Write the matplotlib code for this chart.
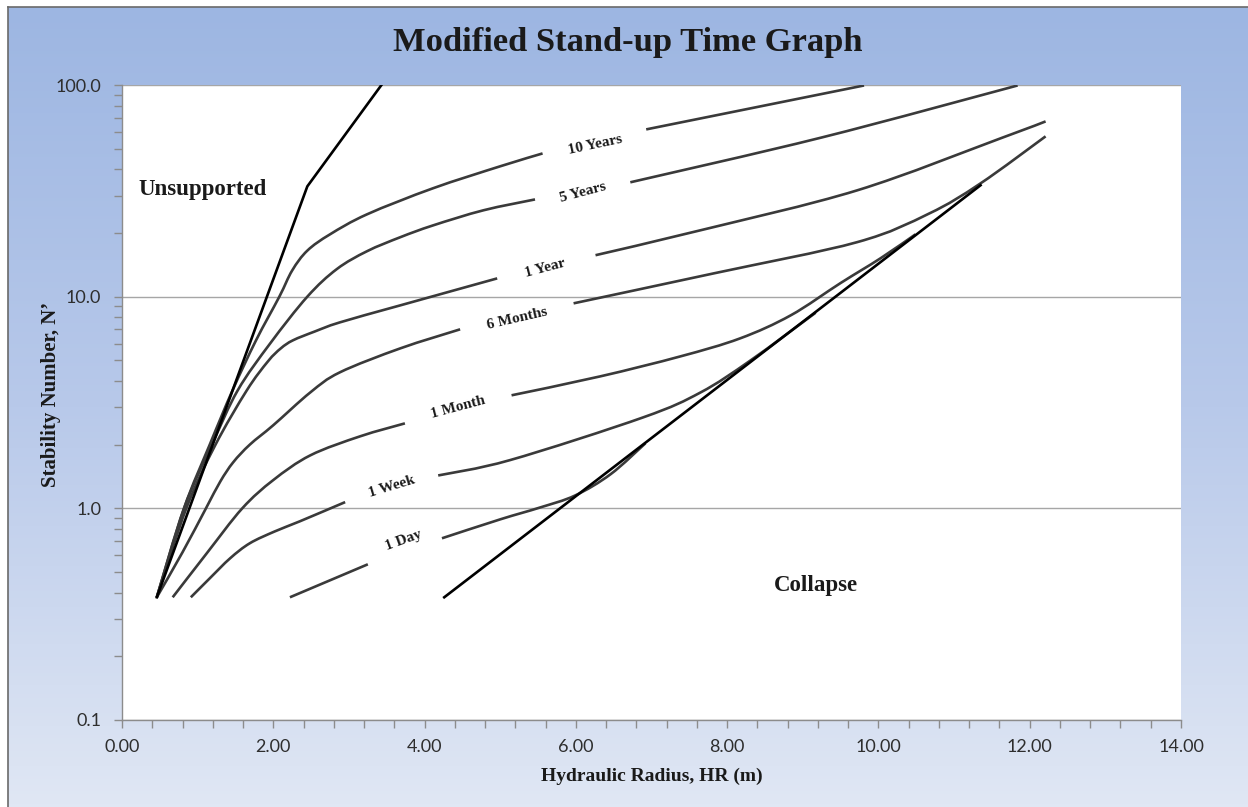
import numpy as np
import matplotlib.pyplot as plt
from matplotlib.colors import LinearSegmentedColormap
from matplotlib.lines import Line2D
from matplotlib.path import Path
from matplotlib.patches import PathPatch
from matplotlib.ticker import FixedLocator, MultipleLocator, LogLocator, NullFormatter, FuncFormatter

nan = np.nan

# Boundary lines: hydraulic radius HR (m) vs stability number N'
hr_unsupported = [0.46, 2.45, 3.43]
n_unsupported = [0.38, 33.2, 100.0]

hr_collapse = [4.26, 11.35]
n_collapse = [0.38, 33.6]

# Stand-up time curves (nan = break where the label sits)
hr_10yr = [0.46, 0.82, 1.16, 1.46, 1.77, 2.08, 2.25, 2.45, 2.75, 3.24, 4.11, 5.00, 5.56, nan, 6.93, 9.81]
n_10yr = [0.38, 1.0, 2.0, 3.6, 6.2, 10.0, 13.3, 16.5, 19.7, 24.5, 32.5, 41.3, 47.5, nan, 61.7, 99.5]

hr_5yr = [0.46, 0.82, 1.19, 1.53, 1.96, 2.45, 2.84, 3.24, 3.68, 4.11, 4.78, 5.46, nan, 6.72, 9.25, 11.84]
n_5yr = [0.38, 1.0, 2.0, 3.61, 6.02, 10.0, 13.5, 16.4, 19.1, 21.7, 25.6, 28.8, nan, 34.7, 56.5, 99.5]

hr_1yr = [0.46, 0.85, 1.23, 1.65, 1.93, 2.10, 2.26, 2.55, 2.88, 3.68, 4.96, nan, 6.26, 7.65, 9.72, 11.61, 12.21]
n_1yr = [0.38, 1.0, 1.98, 3.61, 4.95, 5.7, 6.22, 6.85, 7.56, 9.10, 12.2, nan, 15.7, 20.6, 31.8, 55.9, 67.3]

hr_6mo = [0.46, 0.80, 1.11, 1.30, 1.47, 1.69, 2.00, 2.49, 2.88, 3.68, 4.47, nan, 5.97, 7.83, 9.72, 10.67, 11.35, 12.21]
n_6mo = [0.38, 0.62, 1.0, 1.34, 1.65, 2.0, 2.47, 3.53, 4.39, 5.70, 7.01, nan, 9.3, 12.9, 18.1, 24.7, 34.3, 57.2]

hr_1mo = [0.67, 1.12, 1.59, 2.00, 2.49, 3.15, 3.74, nan, 5.15, 6.32, 7.38, 8.17, 8.84, 9.50, 10.03, 10.49]
n_1mo = [0.38, 0.613, 1.0, 1.36, 1.78, 2.19, 2.52, nan, 3.42, 4.20, 5.22, 6.35, 8.16, 11.6, 15.2, 19.7]

hr_1wk = [0.91, 1.16, 1.43, 1.69, 2.02, 2.35, 2.95, nan, 4.18, 5.13, 6.89, 7.65, 8.31, 9.17]
n_1wk = [0.38, 0.467, 0.581, 0.684, 0.778, 0.868, 1.07, nan, 1.43, 1.69, 2.69, 3.53, 5.0, 8.4]

hr_1day = [2.22, 3.25, nan, 4.23, 5.00, 5.53, 5.99, 6.46, 6.92]
n_1day = [0.38, 0.544, nan, 0.722, 0.887, 1.01, 1.15, 1.45, 2.03]

x_ticks = [0, 2, 4, 6, 8, 10, 12, 14]
y_ticks = [0.1, 1.0, 10.0, 100.0]

SERIF = "Liberation Serif"
SANS = "Lato"


def smooth_path(xs, ys):
    """Bezier path through the points (Excel-style smoothed line), split at nan breaks."""
    xs = np.asarray(xs, float)
    ly = np.log10(np.asarray(ys, float))
    verts, codes = [], []
    breaks = np.where(np.isnan(xs))[0]
    for seg in np.split(np.arange(len(xs)), breaks):
        seg = seg[~np.isnan(xs[seg])]
        p = np.column_stack([xs[seg], ly[seg]])
        if len(p) < 2:
            continue
        verts.append(p[0]); codes.append(Path.MOVETO)
        for i in range(len(p) - 1):
            p0 = p[i - 1] if i > 0 else p[i]
            p3 = p[i + 2] if i + 2 < len(p) else p[i + 1]
            c1 = p[i] + (p[i + 1] - p0) / 6.0
            c2 = p[i + 1] - (p3 - p[i]) / 6.0
            verts += [c1, c2, p[i + 1]]
            codes += [Path.CURVE4] * 3
    v = np.array(verts)
    v[:, 1] = 10 ** v[:, 1]
    return Path(v, codes)


fig = plt.figure(figsize=(12.48, 8.07), dpi=100)

# slide backdrop: vertical blue gradient with a thin frame on the left/top
bg = fig.add_axes([8 / 1248, 0, 1 - 8 / 1248, 1 - 7 / 807], zorder=-5)
grad = np.linspace(0, 1, 256).reshape(-1, 1)
cmap = LinearSegmentedColormap.from_list("slide", ["#9db6e2", "#b8c9ea", "#e0e7f4"])
bg.imshow(grad, aspect="auto", cmap=cmap, extent=[0, 1, 0, 1], origin="upper")
bg.set_axis_off()
fig.add_artist(Line2D([7.5 / 1248, 7.5 / 1248], [0, 1 - 6.5 / 807], transform=fig.transFigure, color="#6a6a6a", lw=1.2))
fig.add_artist(Line2D([7.5 / 1248, 1], [1 - 6.5 / 807, 1 - 6.5 / 807], transform=fig.transFigure, color="#6a6a6a", lw=1.2))

ax = fig.add_axes([122 / 1248, 1 - 720 / 807, (1181 - 122) / 1248, (720 - 85) / 807])
ax.set_facecolor("white")
ax.set_yscale("log")
ax.set_xlim(0, 14)
ax.set_ylim(0.1, 100)

gray = "#3a3a3a"
for hx, ny in [(hr_10yr, n_10yr), (hr_5yr, n_5yr), (hr_1yr, n_1yr), (hr_6mo, n_6mo),
               (hr_1mo, n_1mo), (hr_1wk, n_1wk), (hr_1day, n_1day)]:
    ax.add_patch(PathPatch(smooth_path(hx, ny), fill=False, edgecolor=gray, lw=1.9,
                           capstyle="butt", zorder=3))
ax.plot(hr_unsupported, n_unsupported, color="black", lw=1.9, zorder=4)
ax.plot(hr_collapse, n_collapse, color="black", lw=1.9, zorder=4)

# curve labels
label_box = dict(boxstyle="square,pad=0.25", fc="white", ec="none")
curve_labels = [
    ("10 Years", 6.26, 52.4, 12),
    ("5 Years", 6.10, 31.1, 15),
    ("1 Year", 5.60, 13.6, 15),
    ("6 Months", 5.22, 7.89, 13),
    ("1 Month", 4.44, 3.0, 15),
    ("1 Week", 3.57, 1.26, 17),
    ("1 Day", 3.72, 0.706, 20),
]
for text, lx, ly, rot in curve_labels:
    ax.text(lx, ly, text, rotation=rot, rotation_mode="anchor", ha="center", va="center",
            fontsize=11, fontweight="bold", family=SERIF, color="#1a1a1a",
            bbox=label_box, zorder=5)

ax.text(1.06, 32.1, "Unsupported", ha="center", va="center", fontsize=16.5,
        fontweight="bold", family=SERIF, color="#1a1a1a", zorder=5)
ax.text(9.18, 0.433, "Collapse", ha="center", va="center", fontsize=16.5,
        fontweight="bold", family=SERIF, color="#1a1a1a", zorder=5)

# axes styling
for side in ["top", "right"]:
    ax.spines[side].set_visible(False)
for side in ["left", "bottom"]:
    ax.spines[side].set_color("#8c8c8c")
    ax.spines[side].set_linewidth(1.0)

ax.xaxis.set_major_locator(FixedLocator(x_ticks))
ax.xaxis.set_minor_locator(MultipleLocator(0.4))
ax.xaxis.set_major_formatter(FuncFormatter(lambda v, p: f"{v:.2f}"))
ax.yaxis.set_major_locator(FixedLocator(y_ticks))
ax.yaxis.set_minor_locator(LogLocator(base=10, subs=np.arange(2, 10)))
ax.yaxis.set_minor_formatter(NullFormatter())
ax.yaxis.set_major_formatter(FuncFormatter(lambda v, p: f"{v:.1f}"))

ax.tick_params(axis="both", which="both", direction="out", length=6, width=1, color="#8c8c8c")
ax.tick_params(axis="x", which="major", pad=8)
ax.tick_params(axis="y", which="major", pad=9)
for lab in ax.get_xticklabels() + ax.get_yticklabels():
    lab.set_fontfamily(SANS)
    lab.set_fontsize(13)
    lab.set_color("#2e2e2e")

ax.yaxis.grid(True, which="major", color="#a6a6a6", lw=1.0)
ax.set_axisbelow(True)

ax.set_xlabel("Hydraulic Radius, HR (m)", family=SERIF, fontweight="bold", fontsize=14,
              color="#1a1a1a", labelpad=9)
ax.set_ylabel("Stability Number, N\u2019", family=SERIF, fontweight="bold", fontsize=15,
              color="#1a1a1a")
ax.yaxis.set_label_coords(-0.058, 0.513)

fig.text(0.503, 1 - 42 / 807, "Modified Stand-up Time Graph", ha="center", va="center",
         fontsize=24.8, fontweight="bold", family=SERIF, color="#1a1a1a")

fig.savefig("out.png", dpi=100)
